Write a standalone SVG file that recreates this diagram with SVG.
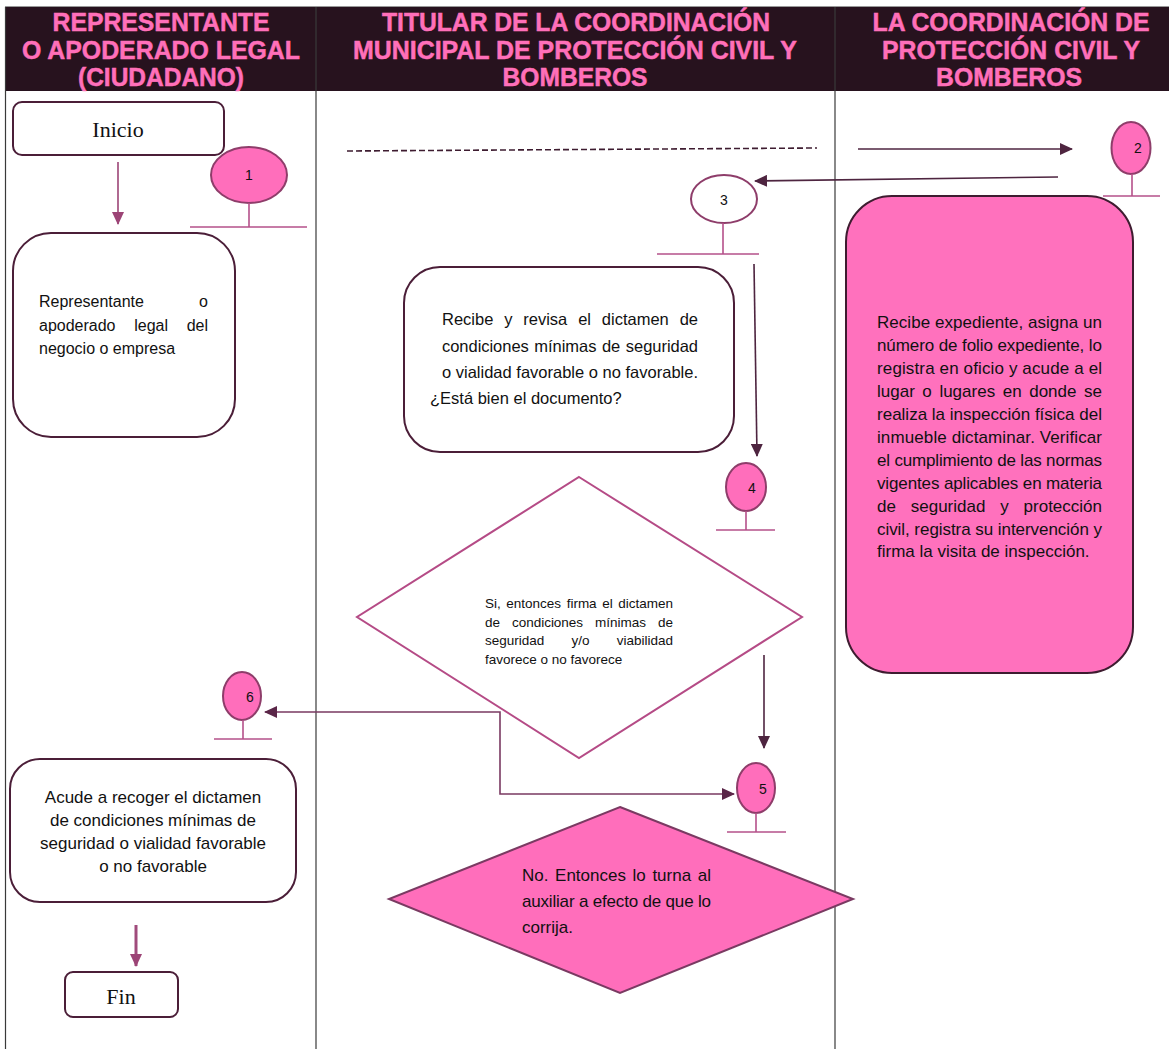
<svg xmlns="http://www.w3.org/2000/svg" width="1169" height="1049" viewBox="0 0 1169 1049">
<style>
.hdr{font-family:"Liberation Sans",Arial,sans-serif;font-weight:700;font-size:25px;fill:#FF6FB9;stroke:#FF6FB9;stroke-width:0.5;text-anchor:middle}
.lane{stroke:#3a3a3a;stroke-width:1.2;fill:none}
.box{fill:#fff;stroke:#4B1E38;stroke-width:2}
.pbox{fill:#FF71BD;stroke:#3E1C30;stroke-width:2}
.serif{font-family:"Liberation Serif","Times New Roman",serif;font-size:22px;fill:#111;text-anchor:middle}
.t{font-family:"Liberation Sans",Arial,sans-serif;fill:#111}
.num{font-family:"Liberation Sans",Arial,sans-serif;font-size:14px;fill:#111;text-anchor:middle}
.cp{fill:#FF6EBB;stroke:#8E3D6A;stroke-width:2}
.cw{fill:#fff;stroke:#8E3D6A;stroke-width:2}
.stem{stroke:#B5508A;stroke-width:1.6;fill:none}
.dk{stroke:#4E2540;stroke-width:1.6;fill:none}
.pk{stroke:#9C4476;stroke-width:1.6;fill:none}
</style>
<defs>
<marker id="ad" markerUnits="userSpaceOnUse" markerWidth="13" markerHeight="12" refX="12" refY="6" orient="auto-start-reverse"><path d="M0,0 L13,6 L0,12 z" fill="#4E2540"/></marker>
<marker id="ap" markerUnits="userSpaceOnUse" markerWidth="13" markerHeight="12" refX="12" refY="6" orient="auto-start-reverse"><path d="M0,0 L13,6 L0,12 z" fill="#9C4476"/></marker>
<marker id="am" markerUnits="userSpaceOnUse" markerWidth="13" markerHeight="12" refX="12" refY="6" orient="auto-start-reverse"><path d="M0,0 L13,6 L0,12 z" fill="#5A2648"/></marker>
</defs>
<rect x="0" y="0" width="1169" height="1049" fill="#fff"/>
<g id="header">
<rect x="5" y="7" width="1164" height="84" fill="#27121E"/>
<line x1="5" y1="6.5" x2="1169" y2="6.5" stroke="#999" stroke-width="1"/>
<text class="hdr" x="161" y="31" textLength="217" lengthAdjust="spacingAndGlyphs">REPRESENTANTE</text>
<text class="hdr" x="161" y="59" textLength="278" lengthAdjust="spacingAndGlyphs">O APODERADO LEGAL</text>
<text class="hdr" x="161" y="86" textLength="166" lengthAdjust="spacingAndGlyphs">(CIUDADANO)</text>
<text class="hdr" x="576" y="31" textLength="388" lengthAdjust="spacingAndGlyphs">TITULAR DE LA COORDINACIÓN</text>
<text class="hdr" x="575" y="59" textLength="444" lengthAdjust="spacingAndGlyphs">MUNICIPAL DE PROTECCIÓN CIVIL Y</text>
<text class="hdr" x="575" y="86" textLength="145" lengthAdjust="spacingAndGlyphs">BOMBEROS</text>
<text class="hdr" x="1011" y="31" textLength="277" lengthAdjust="spacingAndGlyphs">LA COORDINACIÓN DE</text>
<text class="hdr" x="1011" y="59" textLength="258" lengthAdjust="spacingAndGlyphs">PROTECCIÓN CIVIL Y</text>
<text class="hdr" x="1009" y="86" textLength="146" lengthAdjust="spacingAndGlyphs">BOMBEROS</text>
</g>
<g id="lanes">
<line class="lane" x1="5.5" y1="7" x2="5.5" y2="1049"/>
<line class="lane" x1="316" y1="7" x2="316" y2="1049"/>
<line class="lane" x1="835" y1="7" x2="835" y2="1049"/>
</g>
<g id="connectors">
<line class="pk" x1="118" y1="162" x2="118" y2="224" marker-end="url(#ap)"/>
<line x1="347" y1="151" x2="817" y2="148" stroke="#3E1C30" stroke-width="1.6" stroke-dasharray="6,3"/>
<line class="dk" x1="858" y1="149" x2="1072" y2="149" marker-end="url(#ad)"/>
<line class="dk" x1="1058" y1="177" x2="755" y2="181" marker-end="url(#ad)"/>
<line class="dk" x1="754" y1="264" x2="757" y2="456" marker-end="url(#ad)"/>
<line class="dk" x1="764" y1="655" x2="764" y2="748" marker-end="url(#ad)"/>
<path d="M265,712 L500,712 L500,794 L734,794" stroke="#7A3A62" stroke-width="1.6" fill="none" marker-start="url(#am)" marker-end="url(#am)"/>
<line x1="136" y1="925" x2="136" y2="966" stroke="#A04B7C" stroke-width="3" marker-end="url(#ap)"/>
</g>
<g id="inicio">
<rect class="box" x="13" y="102" width="211" height="53" rx="9"/>
<text class="serif" x="118" y="137">Inicio</text>
</g>
<g id="c1">
<ellipse class="cp" cx="249" cy="175" rx="38" ry="28"/>
<line class="stem" x1="249" y1="203" x2="249" y2="227"/>
<line class="stem" x1="190" y1="227" x2="307" y2="227"/>
<text class="num" x="249" y="180">1</text>
</g>
<g id="representante">
<rect class="box" x="13" y="233" width="222" height="204" rx="38"/>
<text class="t" font-size="16" x="39" y="307" word-spacing="50.8" textLength="169" lengthAdjust="spacing">Representante o</text>
<text class="t" font-size="16" x="39" y="331" word-spacing="14.2" textLength="169" lengthAdjust="spacing">apoderado legal del</text>
<text class="t" font-size="16" x="39" y="354">negocio o empresa</text>
</g>
<g id="c2">
<ellipse class="cp" cx="1131" cy="148" rx="19.5" ry="26"/>
<line class="stem" x1="1132" y1="174" x2="1132" y2="196"/>
<line class="stem" x1="1103" y1="196" x2="1160" y2="196"/>
<text class="num" x="1138" y="153">2</text>
</g>
<g id="c3">
<ellipse class="cw" cx="724" cy="199" rx="33" ry="24"/>
<line class="stem" x1="723" y1="223" x2="723" y2="254"/>
<line class="stem" x1="657" y1="254" x2="759" y2="254"/>
<text class="num" x="724" y="205">3</text>
</g>
<g id="recibe">
<rect class="box" x="404" y="267" width="330" height="185" rx="36"/>
<text class="t" font-size="16.5" x="442" y="325" word-spacing="6.3" textLength="256" lengthAdjust="spacing">Recibe y revisa el dictamen de</text>
<text class="t" font-size="16.5" x="442" y="352" word-spacing="1" textLength="256" lengthAdjust="spacing">condiciones mínimas de seguridad</text>
<text class="t" font-size="16.5" x="442" y="378" textLength="256" lengthAdjust="spacing">o vialidad favorable o no favorable.</text>
<text class="t" font-size="16.5" x="430" y="404">¿Está bien el documento?</text>
</g>
<g id="expediente">
<rect class="pbox" x="846" y="196" width="287" height="477" rx="46"/>
<g class="t" font-size="17">
<text x="877" y="328" textLength="225" lengthAdjust="spacing">Recibe expediente, asigna un</text>
<text x="877" y="351" textLength="225" lengthAdjust="spacing">número de folio expediente, lo</text>
<text x="877" y="374" textLength="225" lengthAdjust="spacing">registra en oficio y acude a el</text>
<text x="877" y="397" word-spacing="2.85" textLength="225" lengthAdjust="spacing">lugar o lugares en donde se</text>
<text x="877" y="420" textLength="225" lengthAdjust="spacing">realiza la inspección física del</text>
<text x="877" y="443" textLength="225" lengthAdjust="spacing">inmueble dictaminar. Verificar</text>
<text x="877" y="466" textLength="225" lengthAdjust="spacing">el cumplimiento de las normas</text>
<text x="877" y="489" textLength="225" lengthAdjust="spacing">vigentes aplicables en materia</text>
<text x="877" y="512" word-spacing="10.1" textLength="225" lengthAdjust="spacing">de seguridad y protección</text>
<text x="877" y="535" textLength="225" lengthAdjust="spacing">civil, registra su intervención y</text>
<text x="877" y="557">firma la visita de inspección.</text>
</g>
</g>
<g id="c4">
<ellipse class="cp" cx="746" cy="487" rx="20" ry="24"/>
<line class="stem" x1="746" y1="511" x2="746" y2="530"/>
<line class="stem" x1="716" y1="530" x2="775" y2="530"/>
<text class="num" x="752" y="493">4</text>
</g>
<g id="decision-si">
<polygon points="579,477 802,617 579,758 357,617" fill="#fff" stroke="#B54B86" stroke-width="2"/>
<g class="t" font-size="13.5">
<text x="485" y="608" word-spacing="1.8" textLength="188" lengthAdjust="spacing">Si, entonces firma el dictamen</text>
<text x="485" y="627" word-spacing="8.4" textLength="188" lengthAdjust="spacing">de condiciones mínimas de</text>
<text x="485" y="645" word-spacing="23.4" textLength="188" lengthAdjust="spacing">seguridad y/o viabilidad</text>
<text x="485" y="664">favorece o no favorece</text>
</g>
</g>
<g id="c6">
<ellipse class="cp" cx="242" cy="696" rx="19" ry="24"/>
<line class="stem" x1="243" y1="720" x2="243" y2="739"/>
<line class="stem" x1="214" y1="739" x2="272" y2="739"/>
<text class="num" x="250" y="702">6</text>
</g>
<g id="c5">
<ellipse class="cp" cx="756" cy="788" rx="19" ry="25"/>
<line class="stem" x1="756" y1="813" x2="756" y2="832"/>
<line class="stem" x1="727" y1="832" x2="786" y2="832"/>
<text class="num" x="763" y="794">5</text>
</g>
<g id="acude">
<rect class="box" x="10" y="759" width="286" height="143" rx="30"/>
<g class="t" font-size="17" text-anchor="middle">
<text x="153" y="803">Acude a recoger el dictamen</text>
<text x="153" y="826">de condiciones mínimas de</text>
<text x="153" y="849">seguridad o vialidad favorable</text>
<text x="153" y="872">o no favorable</text>
</g>
</g>
<g id="decision-no">
<polygon points="620,807 853,899 620,993 389,899" fill="#FF6EBB" stroke="#7A3A62" stroke-width="2"/>
<g class="t" font-size="17">
<text x="522" y="881" word-spacing="1.9" textLength="189" lengthAdjust="spacing">No. Entonces lo turna al</text>
<text x="522" y="907" textLength="189" lengthAdjust="spacing">auxiliar a efecto de que lo</text>
<text x="522" y="933">corrija.</text>
</g>
</g>
<g id="fin">
<rect class="box" x="65" y="972" width="113" height="45" rx="8"/>
<text class="serif" x="121" y="1004">Fin</text>
</g>
</svg>
